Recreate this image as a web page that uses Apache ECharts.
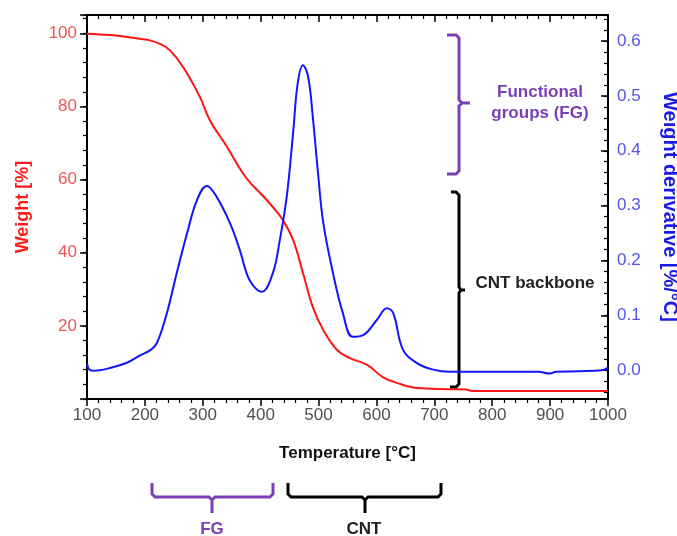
<!DOCTYPE html>
<html><head><meta charset="utf-8">
<script src="https://cdn.jsdelivr.net/npm/echarts@6/dist/echarts.min.js"></script>
<style>html,body{margin:0;padding:0;background:#fff}#c{width:677px;height:536px}</style>
</head><body><div id="c"></div>
<script>
// Temperature [°C] and weight [%] (red curve)
const tempW = [100,140,170,190,210,225,243,266,295,312,342,369,385,400,421,438,456,473,490,508,532,554,584,611,635,670,727,755,765,1000];
const weight = [99.9,99.5,99.0,98.5,98.0,97.2,95.4,90.8,82.6,76.3,68.9,61.8,58.6,56.2,52.5,49.0,43.5,34.5,25.2,18.9,13.4,11.2,9.3,6.0,4.4,3.0,2.7,2.6,2.2,2.2];
// Temperature [°C] and weight derivative [%/°C] (blue curve)
const tempD = [100,104,110,140,170,190,210,221,238,255,273,290,307,324,347,364,381,402,421,433,445,456,464,473,482,490,499,508,525,542,559,577,601,618,629,646,670,698,727,800,880,900,910,950,990,1000];
const deriv = [0.012,0.001,-0.001,0.004,0.014,0.026,0.037,0.050,0.104,0.177,0.250,0.310,0.336,0.316,0.268,0.219,0.164,0.143,0.177,0.237,0.316,0.432,0.523,0.556,0.535,0.462,0.360,0.270,0.177,0.104,0.061,0.064,0.092,0.113,0.104,0.037,0.013,0.001,-0.003,-0.003,-0.003,-0.006,-0.003,-0.002,0.000,0.005];
// Axis ranges / tick settings
const xRange = [100, 1000];
const weightRange = [0, 105];
const derivRange = [-0.0525, 0.6475];
const weightLabels = [20, 40, 60, 80, 100];
const derivLabels = ['0.0','0.1','0.2','0.3','0.4','0.5','0.6'];

const FF = '"Liberation Sans", Arial, sans-serif';
const chart = echarts.init(document.getElementById('c'), null, {renderer: 'canvas'});
const axLine = {show: true, onZero: false, lineStyle: {color: '#000', width: 2}};
const tickStyle = {color: '#000', width: 1.5};
const purple = '#7b3fb5';

const option = {
  animation: false,
  backgroundColor: '#fff',
  grid: {left: 87, right: 69, top: 15, bottom: 137, containLabel: false, outerBoundsMode: 'none'},
  xAxis: [
    {type: 'value', position: 'bottom', min: xRange[0], max: xRange[1], interval: 100,
     axisLine: axLine, axisTick: {show: true, length: 7, lineStyle: tickStyle},
     minorTick: {show: true, splitNumber: 5, length: 4, lineStyle: {color: '#000', width: 1.2}},
     splitLine: {show: false},
     axisLabel: {color: '#505050', fontSize: 17, fontFamily: FF, margin: 8, formatter: v => String(v)},
     name: 'Temperature [°C]', nameLocation: 'middle', nameGap: 46,
     nameTextStyle: {color: '#111', fontSize: 17, fontWeight: 'bold', fontFamily: FF}},
    {type: 'value', position: 'top', min: xRange[0], max: xRange[1], interval: 100,
     axisLine: axLine, axisTick: {show: true, inside: true, length: 7, lineStyle: tickStyle},
     minorTick: {show: true, splitNumber: 5, length: 4, lineStyle: {color: '#000', width: 1.2}},
     splitLine: {show: false}, axisLabel: {show: false}}
  ],
  yAxis: [
    {type: 'value', position: 'left', min: weightRange[0], max: weightRange[1], interval: 20,
     axisLine: axLine, axisTick: {show: true, length: 7, lineStyle: tickStyle},
     splitLine: {show: false},
     axisLabel: {color: '#ee5555', fontSize: 17, fontFamily: FF, margin: 10,
       formatter: v => weightLabels.indexOf(v) >= 0 ? String(v) : ''},
     name: 'Weight [%]', nameLocation: 'middle', nameRotate: 90, nameGap: 55,
     nameTextStyle: {color: '#ff1a1a', fontSize: 18, fontWeight: 'bold', fontFamily: FF}},
    {type: 'value', position: 'right', min: derivRange[0], max: derivRange[1], splitNumber: 7,
     axisLine: axLine, axisTick: {show: true, inside: true, length: 7, lineStyle: tickStyle},
     splitLine: {show: false},
     axisLabel: {color: '#5555e8', fontSize: 17, fontFamily: FF, margin: 9,
       formatter: v => { const s = (Math.round(v * 10) / 10).toFixed(1); return (Math.abs(v - parseFloat(s)) < 1e-6 && derivLabels.indexOf(s) >= 0) ? s : ''; }},
     name: 'Weight derivative [%/°C]', nameLocation: 'middle', nameRotate: -90, nameGap: 52,
     nameTextStyle: {color: '#1a1ae8', fontSize: 20, fontWeight: 'bold', fontFamily: FF}},
    {type: 'value', position: 'left', min: weightRange[0], max: weightRange[1], interval: 4,
     axisLine: {show: false}, axisTick: {show: true, length: 4, lineStyle: {color: '#000', width: 1.2}},
     splitLine: {show: false}, axisLabel: {show: false}},
    {type: 'value', position: 'right', min: derivRange[0], max: derivRange[1], splitNumber: 35,
     axisLine: {show: false}, axisTick: {show: true, inside: true, length: 4, lineStyle: {color: '#000', width: 1.2}},
     splitLine: {show: false}, axisLabel: {show: false}}
  ],
  series: [
    {type: 'line', name: 'Weight', xAxisIndex: 0, yAxisIndex: 0,
     data: tempW.map((t, i) => [t, weight[i]]),
     symbol: 'none', smooth: 0.4,
     lineStyle: {color: '#ff1414', width: 2}, z: 3},
    {type: 'line', name: 'Weight derivative', xAxisIndex: 0, yAxisIndex: 1,
     data: tempD.map((t, i) => [t, deriv[i]]),
     symbol: 'none', smooth: 0.4,
     lineStyle: {color: '#1414ff', width: 2}, z: 3}
  ],
  graphic: [
    {type: 'polyline', shape: {points: [[447,35],[456,35],[459,38],[459,100],[462,103],[470,103],[462,103],[459,106],[459,171],[456,174],[447,174]]},
     style: {stroke: purple, lineWidth: 3, fill: null}},
    {type: 'text', x: 540, y: 103, style: {text: 'Functional\ngroups (FG)', fill: purple, fontSize: 17, fontWeight: 'bold', fontFamily: FF, align: 'center', verticalAlign: 'middle', lineHeight: 21}},
    {type: 'polyline', shape: {points: [[451,192],[456,192],[459,195],[459,287],[461,290],[465,290],[461,290],[459,293],[459,384],[456,387],[450,387]]},
     style: {stroke: '#000', lineWidth: 3, fill: null}},
    {type: 'text', x: 535, y: 283, style: {text: 'CNT backbone', fill: '#222', fontSize: 17, fontWeight: 'bold', fontFamily: FF, align: 'center', verticalAlign: 'middle'}},
    {type: 'polyline', shape: {points: [[152,483],[152,494],[155,497],[209,497],[212,500],[212,513],[212,500],[215,497],[270,497],[273,494],[273,483]]},
     style: {stroke: purple, lineWidth: 3, fill: null}},
    {type: 'text', x: 212, y: 529, style: {text: 'FG', fill: purple, fontSize: 17, fontWeight: 'bold', fontFamily: FF, align: 'center', verticalAlign: 'middle'}},
    {type: 'polyline', shape: {points: [[288,483],[288,494],[291,497],[362,497],[365,500],[365,513],[365,500],[368,497],[438,497],[441,494],[441,483]]},
     style: {stroke: '#000', lineWidth: 3, fill: null}},
    {type: 'text', x: 364, y: 529, style: {text: 'CNT', fill: '#222', fontSize: 17, fontWeight: 'bold', fontFamily: FF, align: 'center', verticalAlign: 'middle'}}
  ]
};
chart.setOption(option);
</script>
</body></html>
